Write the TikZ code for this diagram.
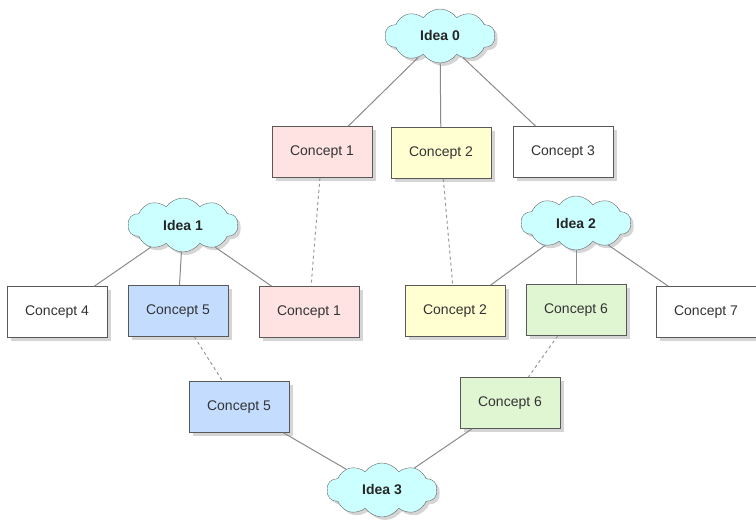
\documentclass[tikz,border=0pt]{standalone}
\usepackage{fontspec}
\setmainfont{Liberation Sans}
\usetikzlibrary{shapes.symbols,shadows}

\definecolor{ideafill}{HTML}{CCFFFF}
\definecolor{pinkfill}{HTML}{FFE3E3}
\definecolor{yellowfill}{HTML}{FFFFD2}
\definecolor{bluefill}{HTML}{C4DDFF}
\definecolor{greenfill}{HTML}{E0F5D2}
\definecolor{textgray}{HTML}{333333}
\definecolor{linegray}{HTML}{8A8A8A}

\begin{document}
\begin{tikzpicture}[x=1pt,y=-1pt]
    \tikzset{
      idea/.style={cloud, cloud puffs=10, cloud puff arc=110, aspect=2.1,
        draw=gray!80!black, fill=ideafill, inner sep=0pt,
        minimum width=110pt, minimum height=54pt,
        font=\fontsize{14}{16}\selectfont\bfseries, text=black!85,
        drop shadow={shadow xshift=3pt, shadow yshift=-3pt, fill=gray!65}},
      concept/.style={rectangle, draw=gray!70!black, fill=white, line width=0.8pt,
        minimum width=100pt, minimum height=51pt,
        font=\fontsize{14}{16}\selectfont, text=textgray,
        drop shadow={shadow xshift=4pt, shadow yshift=-4pt, fill=gray!65}},
      link/.style={draw=linegray, line width=1pt},
      dashlink/.style={draw=gray!80, line width=1pt, dashed}
    }
    \useasboundingbox (0,0) rectangle (756,521);
    % vertices
    \node[idea] (i0) at (440,36) {Idea 0};
    \node[idea] (i1) at (183,225) {Idea 1};
    \node[idea] (i2) at (576,223) {Idea 2};
    \node[idea] (i3) at (382,490) {Idea 3};
    \node[concept, fill=pinkfill] (c1a) at (322,152) {Concept 1};
    \node[concept, fill=yellowfill] (c2a) at (441,153) {Concept 2};
    \node[concept] (c3) at (563,152) {Concept 3};
    \node[concept] (c4) at (57,312) {Concept 4};
    \node[concept, fill=bluefill] (c5a) at (178,311) {Concept 5};
    \node[concept, fill=pinkfill] (c1b) at (309,312) {Concept 1};
    \node[concept, fill=yellowfill] (c2b) at (455,311) {Concept 2};
    \node[concept, fill=greenfill] (c6a) at (576,310) {Concept 6};
    \node[concept] (c7) at (706,312) {Concept 7};
    \node[concept, fill=bluefill] (c5b) at (239,407) {Concept 5};
    \node[concept, fill=greenfill] (c6b) at (510,403) {Concept 6};

    %edges
    \draw[link] (i0) -- (c1a);
    \draw[link] (i0) -- (c2a);
    \draw[link] (i0) -- (c3);
    \draw[link] (i1) -- (c4);
    \draw[link] (i1) -- (c5a);
    \draw[link] (i1) -- (c1b);
    \draw[link] (i2) -- (c2b);
    \draw[link] (i2) -- (c6a);
    \draw[link] (i2) -- (c7);
    \draw[link] (c5b) -- (i3);
    \draw[link] (c6b) -- (i3);
    \draw[dashlink] (c1a) -- (c1b);
    \draw[dashlink] (c2a) -- (c2b);
    \draw[dashlink] (c5a) -- (c5b);
    \draw[dashlink] (c6a) -- (c6b);
\end{tikzpicture}
\end{document}
